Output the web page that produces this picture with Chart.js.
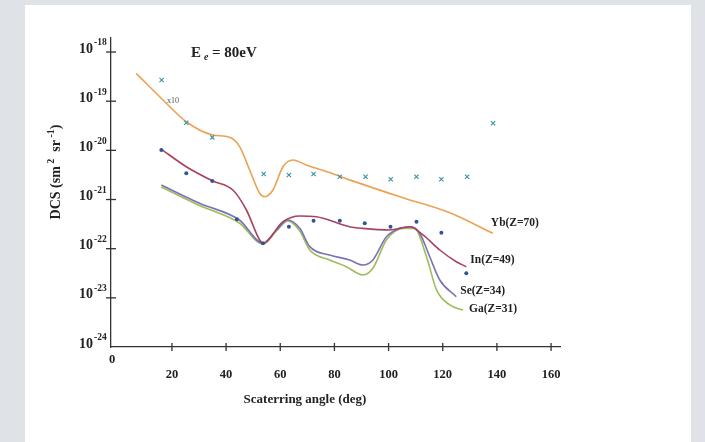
<!DOCTYPE html>
<html>
<head>
<meta charset="utf-8">
<script src="https://cdn.jsdelivr.net/npm/chart.js@4.4.1/dist/chart.umd.min.js"></script>
<style>
  body { margin: 0; width: 705px; height: 442px; overflow: hidden; position: relative; background: #dfe3e7; }
  #panel { position: absolute; left: 25px; top: 5px; width: 666px; height: 437px; background: #fff; }
  #dcsChart { position: absolute; left: 0; top: 0; }
</style>
</head>
<body>
<div id="panel"></div>
<canvas id="dcsChart" width="705" height="442"></canvas>
<script>
// axis ticks
const angleTicks = [20, 40, 60, 80, 100, 120, 140, 160];
const decadeTicks = [-18, -19, -20, -21, -22, -23, -24]; // powers of ten

// Yb (Z=70) theory, x10
const ybAngles = [6.8, 16.7, 25.3, 35.1, 41.3, 45.0, 48.7, 52.4, 54.2, 57.3, 61.0, 64.7, 69.6, 80.7, 85.6, 104.1, 122.6, 138.5];
const ybDcs = [3.69e-19, 1.06e-19, 3.82e-20, 2.05e-20, 1.84e-20, 1.19e-20, 3.98e-21, 1.34e-21, 1.14e-21, 1.56e-21, 4.65e-21, 6.37e-21, 5.04e-21, 3.16e-21, 2.51e-21, 1.14e-21, 5.37e-22, 2.06e-22];

// Yb experiment (crosses)
const ybExpAngles = [16.2, 25.3, 34.9, 53.9, 63.2, 72.3, 82.0, 91.5, 100.8, 110.3, 119.5, 129.0, 138.6];
const ybExpDcs = [2.70e-19, 3.65e-20, 1.84e-20, 3.30e-21, 3.16e-21, 3.30e-21, 2.91e-21, 2.91e-21, 2.58e-21, 2.91e-21, 2.58e-21, 2.91e-21, 3.55e-20];

// In (Z=49) theory
const inAngles = [16.1, 25.3, 35.1, 42.5, 47.5, 52.4, 53.6, 61.0, 67.2, 73.3, 85.6, 90.5, 100.4, 107.8, 112.7, 118.9, 125.0, 128.7];
const inDcs = [1.05e-20, 4.65e-21, 2.38e-21, 1.56e-21, 6.12e-22, 1.50e-22, 1.29e-22, 3.54e-22, 4.62e-22, 4.47e-22, 2.80e-22, 2.59e-22, 2.40e-22, 2.80e-22, 1.90e-22, 9.40e-23, 5.43e-23, 4.30e-23];

// In experiment (dots)
const inExpAngles = [16.1, 25.3, 34.9, 44.0, 53.6, 63.2, 72.3, 82.0, 91.2, 100.7, 110.3, 119.5, 128.7];
const inExpDcs = [1.02e-20, 3.41e-21, 2.38e-21, 3.98e-22, 1.29e-22, 2.80e-22, 3.70e-22, 3.70e-22, 3.28e-22, 2.80e-22, 3.54e-22, 2.11e-22, 3.16e-23];

// Se (Z=34) theory
const seAngles = [16.1, 30.2, 44.9, 53.6, 58.6, 62.8, 67.2, 70.9, 78.2, 85.6, 90.5, 94.2, 99.2, 104.1, 108.4, 111.5, 115.2, 118.9, 125.0];
const seDcs = [1.97e-21, 8.37e-22, 3.83e-22, 1.29e-22, 2.40e-22, 3.83e-22, 2.59e-22, 1.10e-22, 7.44e-23, 5.89e-23, 4.66e-23, 5.89e-23, 1.75e-22, 2.59e-22, 2.80e-22, 2.06e-22, 6.87e-23, 2.31e-23, 1.05e-23];

// Ga (Z=31) theory
const gaAngles = [16.1, 30.2, 44.9, 53.6, 58.6, 62.8, 67.2, 70.9, 78.2, 84.4, 90.5, 94.2, 99.2, 105.3, 109.6, 114.0, 117.7, 122.6, 127.5];
const gaDcs = [1.80e-21, 7.55e-22, 3.33e-22, 1.24e-22, 2.29e-22, 3.66e-22, 2.29e-22, 9.40e-23, 5.89e-23, 4.30e-23, 2.92e-23, 3.99e-23, 1.50e-22, 2.59e-22, 2.59e-22, 6.87e-23, 1.45e-23, 7.16e-24, 5.66e-24];

const curveLabels = ['Yb(Z=70)', 'In(Z=49)', 'Se(Z=34)', 'Ga(Z=31)'];

const serif = '"Liberation Serif", "DejaVu Serif", serif';

function toPoints(xs, ys) {
    return xs.map((x, i) => ({ x: x, y: ys[i] }));
}

function curve(label, xs, ys, color, textOffset) {
    return {
        type: 'line',
        label: label,
        data: toPoints(xs, ys),
        borderColor: color,
        borderWidth: 1.6,
        pointRadius: 0,
        cubicInterpolationMode: 'monotone',
        fill: false,
        order: 2,
        textOffset: textOffset
    };
}

// draws tick marks, tick labels, titles and curve names
const decorations = {
    id: 'decorations',
    afterDraw(chart) {
        const ctx = chart.ctx;
        const xs = chart.scales.x;
        const ys = chart.scales.y;
        ctx.save();
        ctx.strokeStyle = '#333';
        ctx.fillStyle = '#222';
        ctx.lineWidth = 1.3;

        // x ticks
        ctx.font = 'bold 12.5px ' + serif;
        ctx.textAlign = 'center';
        ctx.textBaseline = 'middle';
        angleTicks.forEach(a => {
            const px = xs.getPixelForValue(a);
            ctx.beginPath();
            ctx.moveTo(px, ys.bottom - 4);
            ctx.lineTo(px, ys.bottom + 4);
            ctx.stroke();
            ctx.fillText(String(a), px, ys.bottom + 28);
        });
        ctx.fillText('0', xs.left + 1, ys.bottom + 13);

        // y ticks with powers of ten
        decadeTicks.forEach(e => {
            const py = ys.getPixelForValue(Math.pow(10, e));
            if (e !== -24) {
                ctx.beginPath();
                ctx.moveTo(xs.left - 5, py);
                ctx.lineTo(xs.left + 5, py);
                ctx.stroke();
            }
            const xr = xs.left - 18;
            ctx.font = 'bold 14px ' + serif;
            ctx.textAlign = 'right';
            ctx.fillText('10', xr, py - 3);
            ctx.font = 'bold 9.5px ' + serif;
            ctx.textAlign = 'left';
            ctx.fillText(String(e), xr + 1, py - 9);
        });

        // x axis title
        ctx.font = 'bold 13px ' + serif;
        ctx.textAlign = 'center';
        ctx.fillText('Scaterring angle (deg)', 305, 400);

        // y axis title, rotated, with superscripts
        ctx.save();
        ctx.translate(56, 172);
        ctx.rotate(-Math.PI / 2);
        const parts = [['DCS (sm', 14, 0], [' 2', 10, -5], ['  sr', 14, 0], [' -1', 10, -5], [')', 14, 0]];
        let total = 0;
        parts.forEach(p => { ctx.font = 'bold ' + p[1] + 'px ' + serif; total += ctx.measureText(p[0]).width; });
        let cx = -total / 2;
        ctx.textAlign = 'left';
        parts.forEach(p => {
            ctx.font = 'bold ' + p[1] + 'px ' + serif;
            ctx.fillText(p[0], cx, p[2]);
            cx += ctx.measureText(p[0]).width;
        });
        ctx.restore();

        // chart title E_e = 80eV
        ctx.textAlign = 'left';
        ctx.textBaseline = 'alphabetic';
        ctx.font = 'bold 15px ' + serif;
        ctx.fillText('E', 191, 57);
        ctx.font = 'bold italic 10px ' + serif;
        ctx.fillText('e', 204, 60);
        ctx.font = 'bold 15px ' + serif;
        ctx.fillText('= 80eV', 212, 57);

        // x10 note for Yb
        ctx.font = '8px ' + serif;
        ctx.fillStyle = '#555';
        ctx.fillText('x10', 167, 103);

        // curve names next to the curve ends
        ctx.fillStyle = '#222';
        ctx.font = 'bold 11.5px ' + serif;
        ctx.textBaseline = 'middle';
        chart.data.datasets.forEach(ds => {
            if (!ds.textOffset) return;
            const last = ds.data[ds.data.length - 1];
            const px = xs.getPixelForValue(last.x) + ds.textOffset[0];
            const py = ys.getPixelForValue(last.y) + ds.textOffset[1];
            ctx.fillText(ds.label, px, py);
        });
        ctx.restore();
    }
};

new Chart(document.getElementById('dcsChart'), {
    type: 'line',
    data: {
        datasets: [
            curve(curveLabels[0], ybAngles, ybDcs, '#eda153', [-2, -10]),
            curve(curveLabels[1], inAngles, inDcs, '#a8425f', [4, -7]),
            curve(curveLabels[2], seAngles, seDcs, '#7b72b6', [4, -6]),
            curve(curveLabels[3], gaAngles, gaDcs, '#9cbd5a', [6, -1]),
            {
                type: 'scatter',
                label: 'Yb exp',
                data: toPoints(ybExpAngles, ybExpDcs),
                pointStyle: 'crossRot',
                pointRadius: 3,
                borderColor: '#3f95a6',
                borderWidth: 1.2,
                showLine: false,
                order: 1
            },
            {
                type: 'scatter',
                label: 'In exp',
                data: toPoints(inExpAngles, inExpDcs),
                pointStyle: 'circle',
                pointRadius: 2,
                backgroundColor: '#2f5597',
                borderWidth: 0,
                showLine: false,
                order: 1
            }
        ]
    },
    options: {
        responsive: false,
        animation: false,
        layout: { padding: { left: 0, top: 38, right: 145, bottom: 0 } },
        plugins: { legend: { display: false }, tooltip: { enabled: false } },
        scales: {
            x: {
                type: 'linear',
                min: -2.5,
                max: 163.3,
                grid: { display: false },
                border: { display: true, color: '#333', width: 1.3 },
                ticks: { display: false },
                afterFit: s => { s.height = 95; }
            },
            y: {
                type: 'logarithmic',
                min: 1e-24,
                max: 1.93e-18,
                grid: { display: false },
                border: { display: true, color: '#333', width: 1.3 },
                ticks: { display: false },
                afterFit: s => { s.width = 111; }
            }
        }
    },
    plugins: [decorations]
});
</script>
</body>
</html>
